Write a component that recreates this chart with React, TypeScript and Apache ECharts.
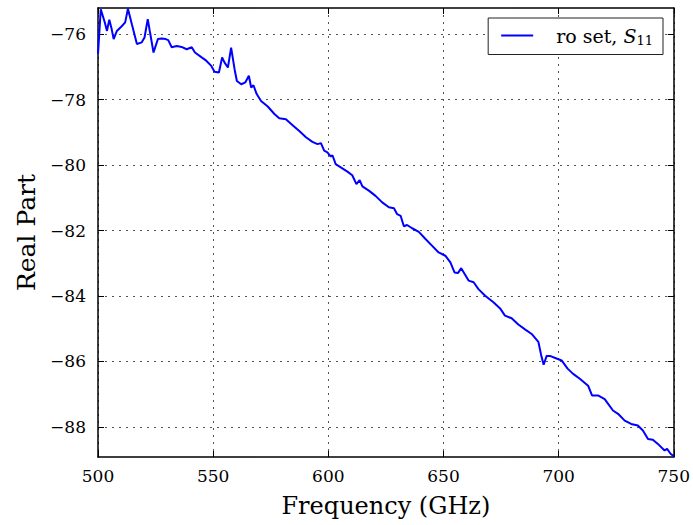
import React, { useEffect, useRef } from "react";
import * as echarts from "echarts";

const freqs = [
  500.0, 501.2, 502.9, 503.9, 504.9, 505.8, 506.8, 508.2, 510.4, 511.8, 513.0, 514.7,
  516.9, 519.0, 520.2, 521.6, 522.6, 524.1, 526.0, 527.7, 529.4, 530.5, 532.0, 534.2,
  536.3, 538.5, 540.7, 542.1, 545.0, 547.0, 549.2, 550.6, 552.5, 553.9, 554.9, 556.4,
  557.8, 559.3, 560.3, 562.2, 564.0, 565.5, 566.5, 567.5, 568.9, 570.8, 573.7, 576.6,
  578.7, 581.6, 584.5, 587.4, 590.3, 593.1, 595.3, 596.8, 598.2, 599.6, 601.1, 601.8,
  603.2, 605.4, 608.3, 610.4, 612.2, 613.6, 614.8, 617.6, 620.5, 623.4, 626.3, 628.5,
  629.9, 631.4, 632.8, 634.2, 636.4, 639.3, 642.2, 645.0, 647.9, 650.8, 653.0, 654.8,
  656.3, 657.7, 659.2, 660.9, 663.1, 665.2, 668.1, 671.7, 674.6, 676.7, 679.6, 682.5,
  685.4, 688.3, 691.2, 692.4, 693.5, 694.8, 696.2, 699.1, 701.3, 703.9, 706.3, 709.2,
  712.8, 714.5, 717.1, 720.0, 723.6, 725.8, 728.7, 731.5, 734.4, 736.6, 738.8, 740.9,
  743.1, 746.0, 747.1, 748.6, 750.0,
];

const realPart = [
  -76.6, -75.24, -75.63, -75.9, -75.56, -75.8, -76.15, -75.9, -75.75, -75.64, -75.22, -75.7,
  -76.3, -76.25, -76.1, -75.54, -75.95, -76.56, -76.15, -76.13, -76.15, -76.18, -76.4, -76.36,
  -76.39, -76.46, -76.4, -76.56, -76.71, -76.81, -76.97, -77.15, -77.17, -76.71, -76.86, -77.02,
  -76.41, -77.07, -77.43, -77.53, -77.47, -77.27, -77.63, -77.56, -77.83, -78.04, -78.21, -78.44,
  -78.57, -78.6, -78.78, -78.96, -79.15, -79.29, -79.36, -79.33, -79.56, -79.61, -79.74, -79.7,
  -79.97, -80.07, -80.2, -80.31, -80.58, -80.46, -80.65, -80.78, -80.94, -81.14, -81.29, -81.32,
  -81.5, -81.55, -81.87, -81.83, -81.93, -82.04, -82.26, -82.46, -82.67, -82.77, -82.97, -83.28,
  -83.3, -83.15, -83.33, -83.53, -83.58, -83.79, -83.99, -84.19, -84.38, -84.6, -84.68, -84.87,
  -85.02, -85.16, -85.4, -85.8, -86.1, -85.83, -85.83, -85.91, -85.97, -86.22, -86.38, -86.53,
  -86.74, -87.04, -87.04, -87.15, -87.5, -87.6, -87.81, -87.91, -87.96, -88.11, -88.37, -88.39,
  -88.52, -88.72, -88.67, -88.82, -88.9,
];

const yTicks = [-88, -86, -84, -82, -80, -78, -76];
const xTicks = [500, 550, 600, 650, 700, 750];

const FONT = "DejaVu Serif";

export default function App() {
  const ref = useRef<HTMLDivElement>(null);
  useEffect(() => {
    if (!ref.current) return;
    const chart = echarts.init(ref.current, undefined, { renderer: "svg" });
    const frameLine = { show: true, onZero: false, lineStyle: { color: "#000", width: 1.5 } };
    const tick = { show: true, inside: true, length: 6, lineStyle: { color: "#000", width: 1 } };
    const grid = { show: true, lineStyle: { color: "#555", width: 1, type: [2, 5] } };
    const fmtY = (v: number) => String(v).replace("-", "\u2212");
    chart.setOption({
      animation: false,
      backgroundColor: "#fff",
      grid: { left: 98, right: 17, top: 8, bottom: 68 },
      xAxis: [
        {
          type: "value",
          min: xTicks[0],
          max: xTicks[xTicks.length - 1],
          interval: 50,
          position: "bottom",
          axisLine: frameLine,
          axisTick: tick,
          splitLine: grid,
          axisLabel: { color: "#000", fontFamily: FONT, fontSize: 17, margin: 10 },
          name: "Frequency (GHz)",
          nameLocation: "middle",
          nameGap: 37,
          nameTextStyle: { color: "#000", fontFamily: FONT, fontSize: 24 },
        },
        {
          type: "value",
          min: xTicks[0],
          max: xTicks[xTicks.length - 1],
          interval: 50,
          position: "top",
          axisLine: frameLine,
          axisTick: tick,
          splitLine: { show: false },
          axisLabel: { show: false },
        },
      ],
      yAxis: [
        {
          type: "value",
          min: -88.92,
          max: -75.2,
          position: "left",
          axisLine: frameLine,
          axisTick: { ...tick, customValues: yTicks },
          splitLine: grid,
          axisLabel: {
            customValues: yTicks,
            formatter: fmtY,
            color: "#000",
            fontFamily: FONT,
            fontSize: 17,
            margin: 12,
          },
          name: "Real Part",
          nameLocation: "middle",
          nameRotate: 90,
          nameGap: 58,
          nameTextStyle: { color: "#000", fontFamily: FONT, fontSize: 25 },
        },
        {
          type: "value",
          min: -88.92,
          max: -75.2,
          position: "right",
          axisLine: frameLine,
          axisTick: { ...tick, customValues: yTicks },
          splitLine: { show: false },
          axisLabel: { show: false, customValues: yTicks },
        },
      ],
      legend: {
        right: 30,
        top: 18,
        padding: [8, 10, 8, 13],
        borderColor: "#222",
        borderWidth: 1,
        backgroundColor: "#fff",
        itemWidth: 32,
        itemHeight: 2,
        formatter: () => "{a|ro set, }{b|S}{c|11}",
        textStyle: {
          padding: [0, 0, 0, 18],
          rich: {
            a: { fontFamily: FONT, fontSize: 19, color: "#000" },
            b: { fontFamily: FONT, fontSize: 19, fontStyle: "italic", color: "#000" },
            c: { fontFamily: FONT, fontSize: 13, color: "#000", padding: [9, 0, 0, 0] },
          },
        },
        data: [{ name: "ro set, S11", icon: "rect" }],
      },
      series: [
        {
          name: "ro set, S11",
          type: "line",
          xAxisIndex: 0,
          yAxisIndex: 0,
          data: freqs.map((f, i) => [f, realPart[i]]),
          symbol: "none",
          lineStyle: { color: "#0000ff", width: 2 },
          itemStyle: { color: "#0000ff" },
          emphasis: { disabled: true },
          silent: true,
        },
      ],
    });
    return () => chart.dispose();
  }, []);
  return (
    <div
      ref={ref}
      style={{ position: "fixed", left: 0, top: 0, width: 693, height: 525 }}
    />
  );
}
